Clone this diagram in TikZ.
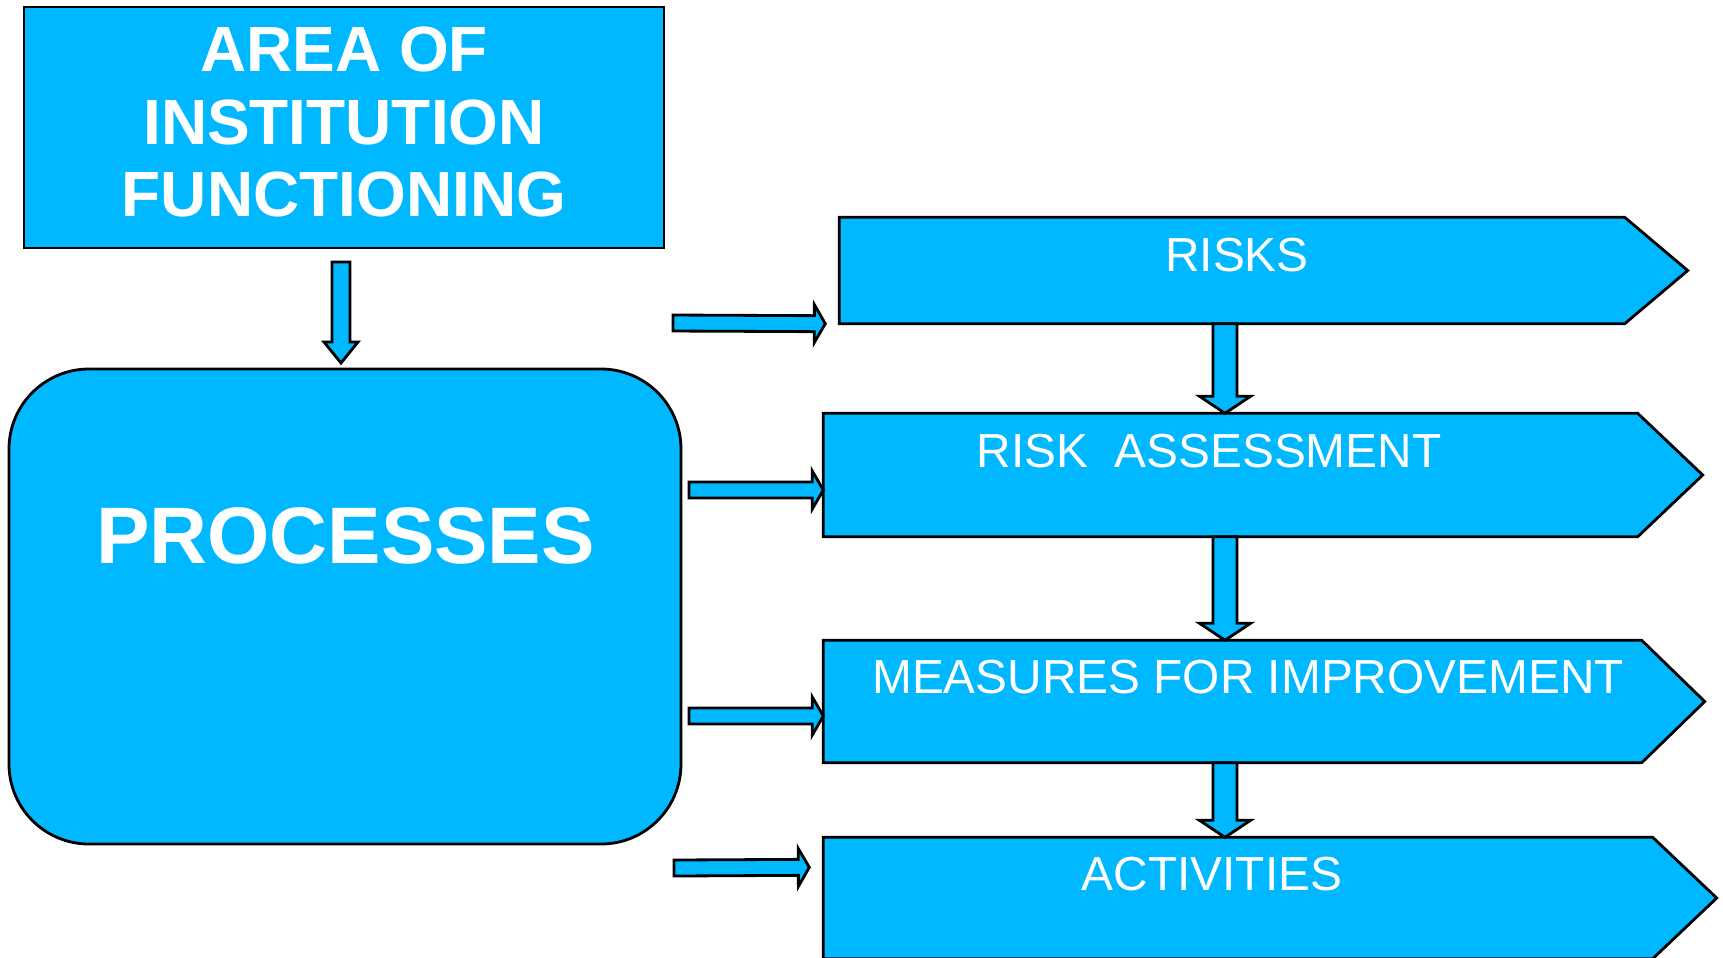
\documentclass[tikz,border=0pt]{standalone}
\usepackage{fontspec}
\setmainfont{Liberation Sans}
\usetikzlibrary{calc}
\definecolor{skyfill}{HTML}{00B8FF}

% block arrow: from, to, shaft half width, head half width, head length
\newcommand{\blockarrow}[5]{%
    \coordinate (ba-head) at ($(#2)!#5!(#1)$);
    \draw [blockline] ($(#1)!#3!90:(#2)$) -- ($(ba-head)!#3!90:(#2)$)
        -- ($(ba-head)!#4!90:(#2)$) -- (#2) -- ($(ba-head)!#4!-90:(#2)$)
        -- ($(ba-head)!#3!-90:(#2)$) -- ($(#1)!#3!-90:(#2)$) -- cycle;}

\begin{document}
\begin{tikzpicture}[
            boxline/.style={draw, line width=0.8pt, fill=skyfill},
            areabox/.style={boxline, rectangle, minimum width=6.4cm, minimum height=2.41cm},
            procbox/.style={boxline, rectangle, rounded corners=0.8cm, minimum width=6.72cm, minimum height=4.75cm},
            stepbox/.style={rectangle, inner sep=0pt},
            steptip/.style={boxline},
            blockline/.style={boxline, line join=miter},
            bigtext/.style={text=white, font=\bfseries\fontsize{18.2}{20.5}\selectfont, align=center, inner sep=0pt},
            proctext/.style={text=white, font=\bfseries\fontsize{22.8}{27}\selectfont, inner sep=0pt, anchor=base},
            steptext/.style={text=white, font=\fontsize{13.6}{16}\selectfont, inner sep=0pt, anchor=base}
        ]

            \useasboundingbox (0,0) rectangle (17.23,-9.57);

% Left column
            \node (area) [areabox] at (3.44,-1.275) {};
            \node (area-txt) [bigtext] at (3.44,-1.22) {AREA OF\\INSTITUTION\\FUNCTIONING};
            \node (proc) [procbox] at (3.45,-6.065) {};
            \node (proc-txt) [proctext] at (3.455,-5.63) {PROCESSES};

% Right column - plain boxes, pointed outline drawn round them
            \node (risks) [stepbox, minimum width=7.84cm, minimum height=1.05cm] at (12.32,-2.705) {};
            \node (assess) [stepbox, minimum width=8.13cm, minimum height=1.22cm] at (12.305,-4.75) {};
            \node (measures) [stepbox, minimum width=8.17cm, minimum height=1.21cm] at (12.325,-7.015) {};
            \node (activities) [stepbox, minimum width=8.28cm, minimum height=1.20cm] at (12.38,-8.98) {};

            \foreach \n/\t in {risks/0.63, assess/0.65, measures/0.63, activities/0.64}
                \draw [steptip] (\n.north west) -- (\n.north east) -- ([xshift=\t cm]\n.east)
                    -- (\n.south east) -- (\n.south west) -- cycle;

            \node (risks-txt) [steptext] at (12.37,-2.71) {RISKS};
            \node (assess-txt) [steptext] at (12.09,-4.67) {RISK~~ASSESSMENT};
            \node (measures-txt) [steptext] at (12.48,-6.93) {MEASURES FOR IMPROVEMENT};
            \node (activities-txt) [steptext] at (12.12,-8.90) {ACTIVITIES};

% Arrow from area box down to processes
            \coordinate (drop0) at (3.41,-2.62);
            \coordinate (drop0-tip) at (3.41,-3.63);
            \blockarrow{drop0}{drop0-tip}{0.9mm}{1.7mm}{2.1mm}

% Arrows down the right column
            \coordinate (spine) at (12.25,0);
            \coordinate (drop1) at (spine |- risks.south);
            \coordinate (drop1-tip) at (spine |- assess.north);
            \coordinate (drop2) at (spine |- assess.south);
            \coordinate (drop2-tip) at (spine |- measures.north);
            \coordinate (drop3) at (spine |- measures.south);
            \coordinate (drop3-tip) at (spine |- activities.north);
            \foreach \i in {1,2,3}
                {\blockarrow{drop\i}{drop\i-tip}{1.2mm}{2.55mm}{1.7mm}}

% Arrows from processes across to the steps
            \coordinate (out1) at (6.73,-3.23);
            \coordinate (in1) at ([xshift=-1.4mm]risks.south west);
            \coordinate (out2) at (6.89,-4.90);
            \coordinate (in2) at ([yshift=-1.5mm]assess.west);
            \coordinate (out3) at (6.89,-7.16);
            \coordinate (in3) at ([yshift=-1.45mm]measures.west);
            \coordinate (out4) at (6.74,-8.68);
            \coordinate (in4) at ([xshift=-1.4mm, yshift=-3mm]activities.north west);
            \foreach \i in {1,...,4}
                {\blockarrow{out\i}{in\i}{0.8mm}{1.9mm}{1.1mm}}

        \end{tikzpicture}
\end{document}
